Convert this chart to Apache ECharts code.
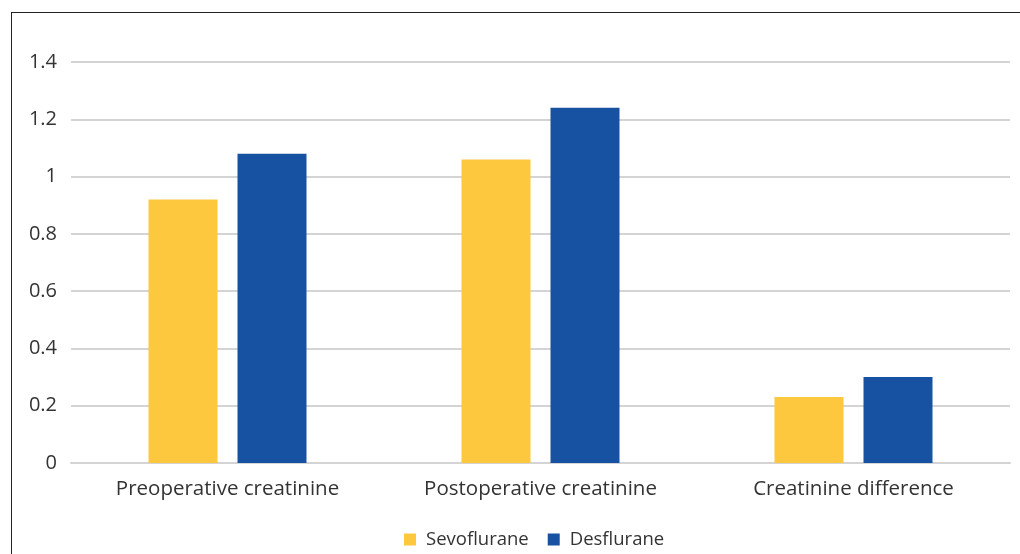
<!DOCTYPE html>
<html>
<head>
<meta charset="utf-8">
<script src="https://cdn.jsdelivr.net/npm/echarts@6/dist/echarts.min.js"></script>
<style>
  html, body { margin: 0; padding: 0; background: #fff; }
  #frame { position: absolute; left: 11px; top: 12px; right: 0; bottom: 0;
           border-left: 1.5px solid #222; border-top: 1.5px solid #222; }
  #chart { position: absolute; left: 0; top: 0; width: 1020px; height: 554px; }
</style>
</head>
<body>
<div id="frame"></div>
<div id="chart"></div>
<script>
const categories = ['Preoperative creatinine', 'Postoperative creatinine', 'Creatinine difference'];
const sevoflurane = [0.92, 1.06, 0.23];
const desflurane = [1.08, 1.24, 0.30];

const font = '"Open Sans", "Noto Sans", sans-serif';
const chart = echarts.init(document.getElementById('chart'), null, { renderer: 'canvas' });
chart.setOption({
  animation: false,
  textStyle: { fontFamily: font },
  grid: { left: 71, right: 10, top: 62, bottom: 91, containLabel: false },
  legend: {
    top: 525,
    left: 399,
    itemWidth: 12,
    itemHeight: 12,
    itemGap: 19,
    icon: 'rect',
    textStyle: { fontFamily: font, fontSize: 18.5, color: '#333', padding: [0, 0, 0, 5] },
    data: ['Sevoflurane', 'Desflurane']
  },
  xAxis: {
    type: 'category',
    data: categories,
    axisTick: { show: false },
    axisLine: { lineStyle: { color: '#d4d4d4', width: 2 } },
    axisLabel: { fontFamily: font, fontSize: 20.5, color: '#333', margin: 16 }
  },
  yAxis: {
    type: 'value',
    min: 0,
    max: 1.4,
    interval: 0.2,
    axisLine: { show: false },
    axisTick: { show: false },
    splitLine: { lineStyle: { color: '#d4d4d4', width: 2 } },
    axisLabel: { fontFamily: font, fontSize: 20, color: '#333', margin: 14 }
  },
  series: [
    {
      name: 'Sevoflurane',
      type: 'bar',
      data: sevoflurane,
      barWidth: 69,
      barGap: '29%',
      itemStyle: { color: '#FDC73E' }
    },
    {
      name: 'Desflurane',
      type: 'bar',
      data: desflurane,
      barWidth: 69,
      itemStyle: { color: '#1652A1' }
    }
  ]
});
</script>
</body>
</html>
